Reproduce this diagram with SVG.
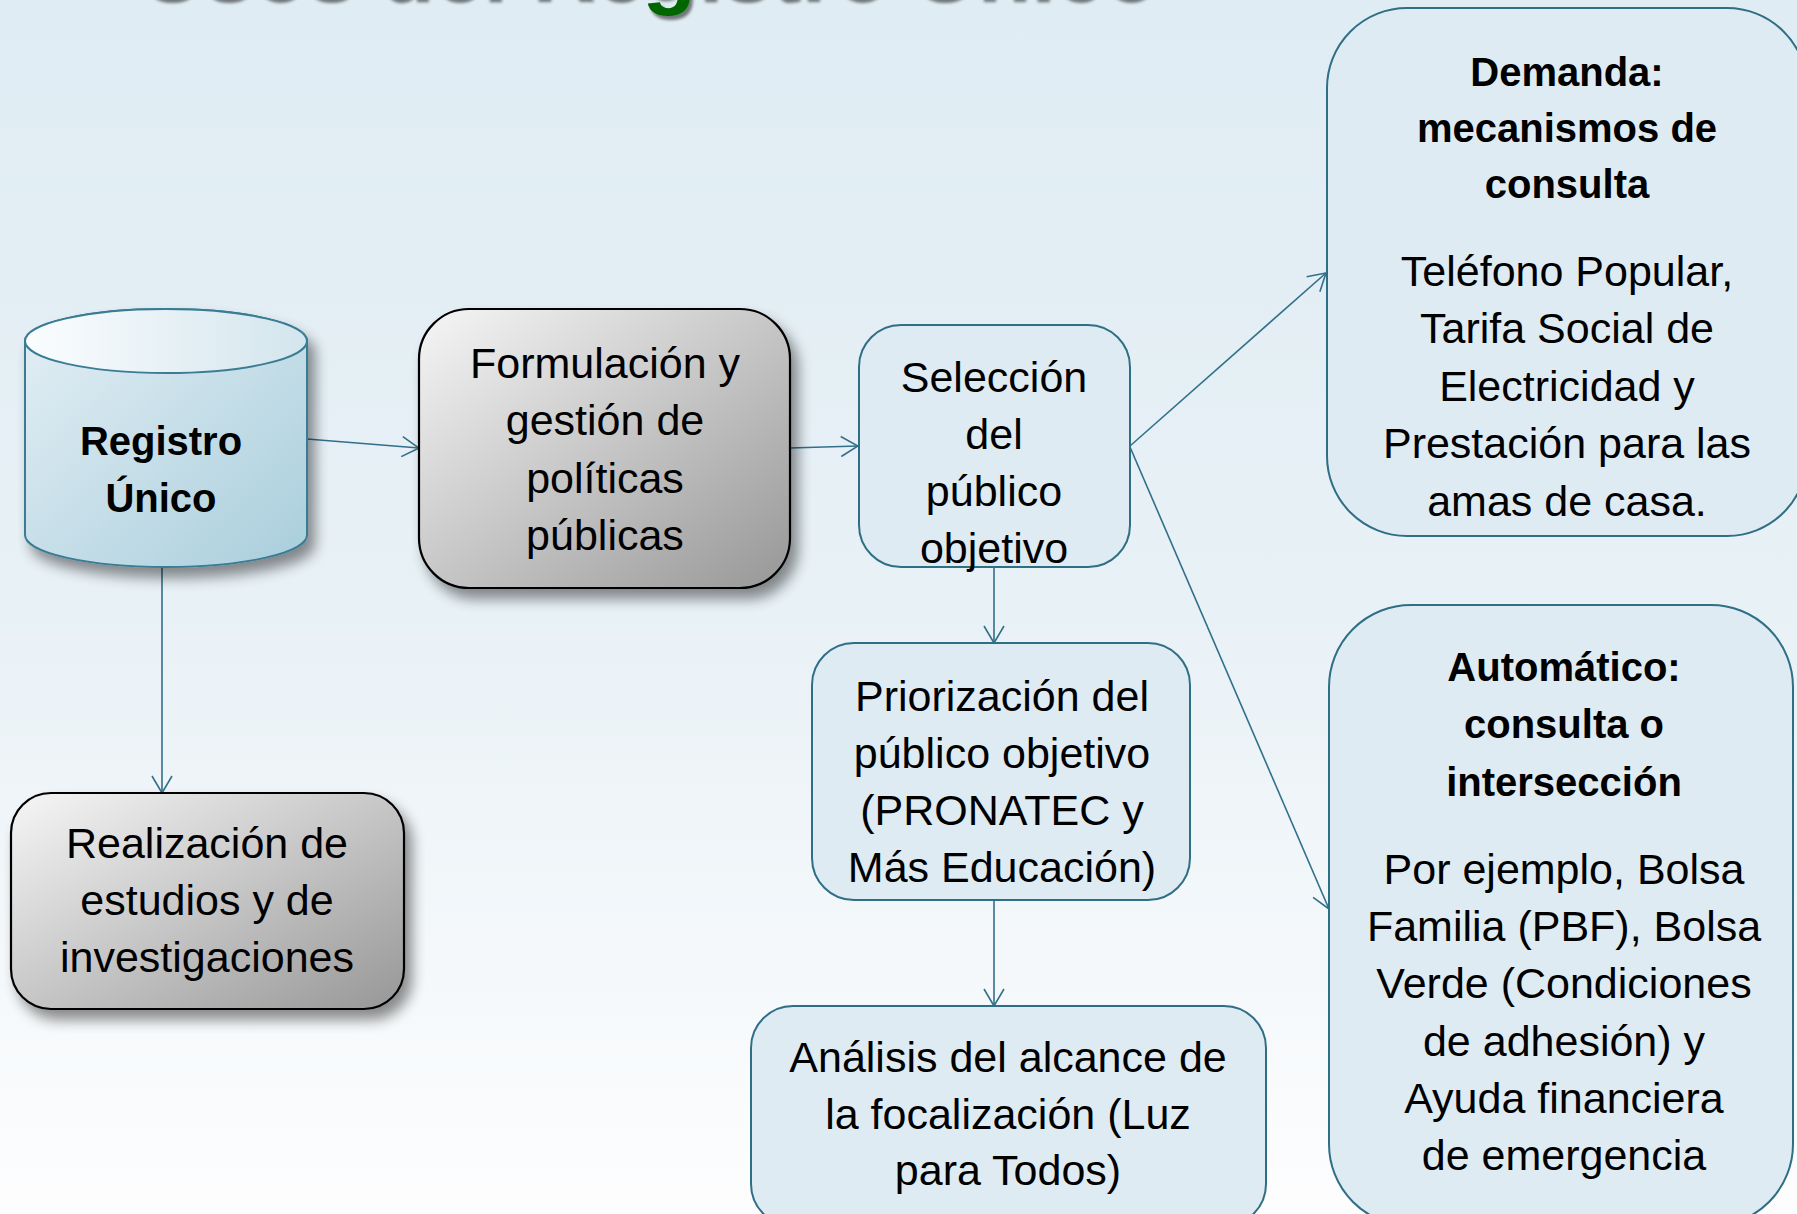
<svg xmlns="http://www.w3.org/2000/svg" width="1797" height="1214" viewBox="0 0 1797 1214">
<defs>
<linearGradient id="bg" x1="0" y1="0" x2="0" y2="1">
<stop offset="0" stop-color="#dfecf3"/>
<stop offset="0.5" stop-color="#e8f1f6"/>
<stop offset="1" stop-color="#fdfdfe"/>
</linearGradient>
<linearGradient id="gray" x1="0" y1="0" x2="1" y2="1">
<stop offset="0" stop-color="#f6f6f6"/>
<stop offset="1" stop-color="#979797"/>
</linearGradient>
<linearGradient id="cylBody" x1="0" y1="0" x2="1" y2="1">
<stop offset="0" stop-color="#e4eff5"/>
<stop offset="1" stop-color="#a9cedc"/>
</linearGradient>
<linearGradient id="cylLid" x1="0" y1="0" x2="1" y2="0">
<stop offset="0" stop-color="#fbfdfe"/>
<stop offset="1" stop-color="#d3e5ed"/>
</linearGradient>
<filter id="shadow" x="-20%" y="-20%" width="150%" height="160%">
<feGaussianBlur in="SourceAlpha" stdDeviation="7"/>
<feOffset dx="7" dy="10" result="o"/>
<feComponentTransfer><feFuncA type="linear" slope="0.45"/></feComponentTransfer>
<feMerge><feMergeNode/><feMergeNode in="SourceGraphic"/></feMerge>
</filter>
<filter id="tshadow" x="-5%" y="-50%" width="110%" height="200%">
<feGaussianBlur in="SourceAlpha" stdDeviation="1.5"/>
<feOffset dx="3" dy="4"/>
<feComponentTransfer><feFuncA type="linear" slope="0.5"/></feComponentTransfer>
<feMerge><feMergeNode/><feMergeNode in="SourceGraphic"/></feMerge>
</filter>
<marker id="arr" viewBox="0 0 20 22" refX="19" refY="11" markerWidth="20" markerHeight="22" markerUnits="userSpaceOnUse" orient="auto">
<path d="M2,1 L19,11 L2,21" fill="none" stroke="#31708a" stroke-width="1.6"/>
</marker>
<style>
.t{font-family:"Liberation Sans",Arial,sans-serif;font-size:43px;fill:#000;text-anchor:middle}
.b{font-family:"Liberation Sans",Arial,sans-serif;font-size:40px;font-weight:bold;fill:#000;text-anchor:middle}
.blue{fill:#deebf3;stroke:#2f6f85;stroke-width:2}
.grayb{fill:url(#gray);stroke:#000;stroke-width:2.2}
.conn{fill:none;stroke:#31708a;stroke-width:1.6;marker-end:url(#arr)}
</style>
</defs>
<rect x="0" y="0" width="1797" height="1214" fill="url(#bg)"/>

<g id="title" filter="url(#tshadow)">
<text x="647" y="-2" font-family="Liberation Sans,Arial,sans-serif" font-size="88" font-weight="bold" text-anchor="middle" fill="#808080">Usos del <tspan fill="#006600">Registro</tspan> Único</text>
</g>

<g id="connectors">
<path class="conn" d="M307,439 L419,448"/>
<path class="conn" d="M790,448 L858,446"/>
<path class="conn" d="M162,565 L162,793"/>
<path class="conn" d="M994,567 L994,643"/>
<path class="conn" d="M994,900 L994,1006"/>
<path class="conn" d="M1130,446 L1326,273"/>
<path class="conn" d="M1130,447 L1329,909"/>
</g>

<g id="registro">
<g filter="url(#shadow)">
<path d="M25,341 V535 A141,32 0 0 0 307,535 V341 A141,32 0 0 0 25,341 Z" fill="url(#cylBody)" stroke="#3a7c94" stroke-width="2"/>
</g>
<ellipse cx="166" cy="341" rx="141" ry="32" fill="url(#cylLid)" stroke="#3a7c94" stroke-width="2"/>
<text class="b" x="161" y="455">Registro</text>
<text class="b" x="161" y="512">Único</text>
</g>

<g id="formulacion">
<rect class="grayb" x="419" y="309" width="371" height="279" rx="50" filter="url(#shadow)"/>
<text class="t" x="605" y="378">Formulación y</text>
<text class="t" x="605" y="435">gestión de</text>
<text class="t" x="605" y="493">políticas</text>
<text class="t" x="605" y="550">públicas</text>
</g>

<g id="seleccion">
<rect class="blue" x="859" y="325" width="271" height="242" rx="42"/>
<text class="t" x="994" y="392">Selección</text>
<text class="t" x="994" y="449">del</text>
<text class="t" x="994" y="506">público</text>
<text class="t" x="994" y="563">objetivo</text>
</g>

<g id="realizacion">
<rect class="grayb" x="11" y="793" width="393" height="216" rx="40" filter="url(#shadow)"/>
<text class="t" x="207" y="858">Realización de</text>
<text class="t" x="207" y="915">estudios y de</text>
<text class="t" x="207" y="972">investigaciones</text>
</g>

<g id="priorizacion">
<rect class="blue" x="812" y="643" width="378" height="257" rx="42"/>
<text class="t" x="1002" y="711">Priorización del</text>
<text class="t" x="1002" y="768">público objetivo</text>
<text class="t" x="1002" y="825">(PRONATEC y</text>
<text class="t" x="1002" y="882">Más Educación)</text>
</g>

<g id="analisis">
<rect class="blue" x="751" y="1006" width="515" height="220" rx="42"/>
<text class="t" x="1008" y="1072">Análisis del alcance de</text>
<text class="t" x="1008" y="1129">la focalización (Luz</text>
<text class="t" x="1008" y="1185">para Todos)</text>
</g>

<g id="demanda">
<rect class="blue" x="1327" y="8" width="480" height="528" rx="80"/>
<text class="b" x="1567" y="86">Demanda:</text>
<text class="b" x="1567" y="142">mecanismos de</text>
<text class="b" x="1567" y="198">consulta</text>
<text class="t" x="1567" y="286">Teléfono Popular,</text>
<text class="t" x="1567" y="343">Tarifa Social de</text>
<text class="t" x="1567" y="401">Electricidad y</text>
<text class="t" x="1567" y="458">Prestación para las</text>
<text class="t" x="1567" y="516">amas de casa.</text>
</g>

<g id="automatico">
<rect class="blue" x="1329" y="605" width="464" height="621" rx="82"/>
<text class="b" x="1564" y="681">Automático:</text>
<text class="b" x="1564" y="738">consulta o</text>
<text class="b" x="1564" y="796">intersección</text>
<text class="t" x="1564" y="884">Por ejemplo, Bolsa</text>
<text class="t" x="1564" y="941">Familia (PBF), Bolsa</text>
<text class="t" x="1564" y="998">Verde (Condiciones</text>
<text class="t" x="1564" y="1056">de adhesión) y</text>
<text class="t" x="1564" y="1113">Ayuda financiera</text>
<text class="t" x="1564" y="1170">de emergencia</text>
</g>
</svg>
